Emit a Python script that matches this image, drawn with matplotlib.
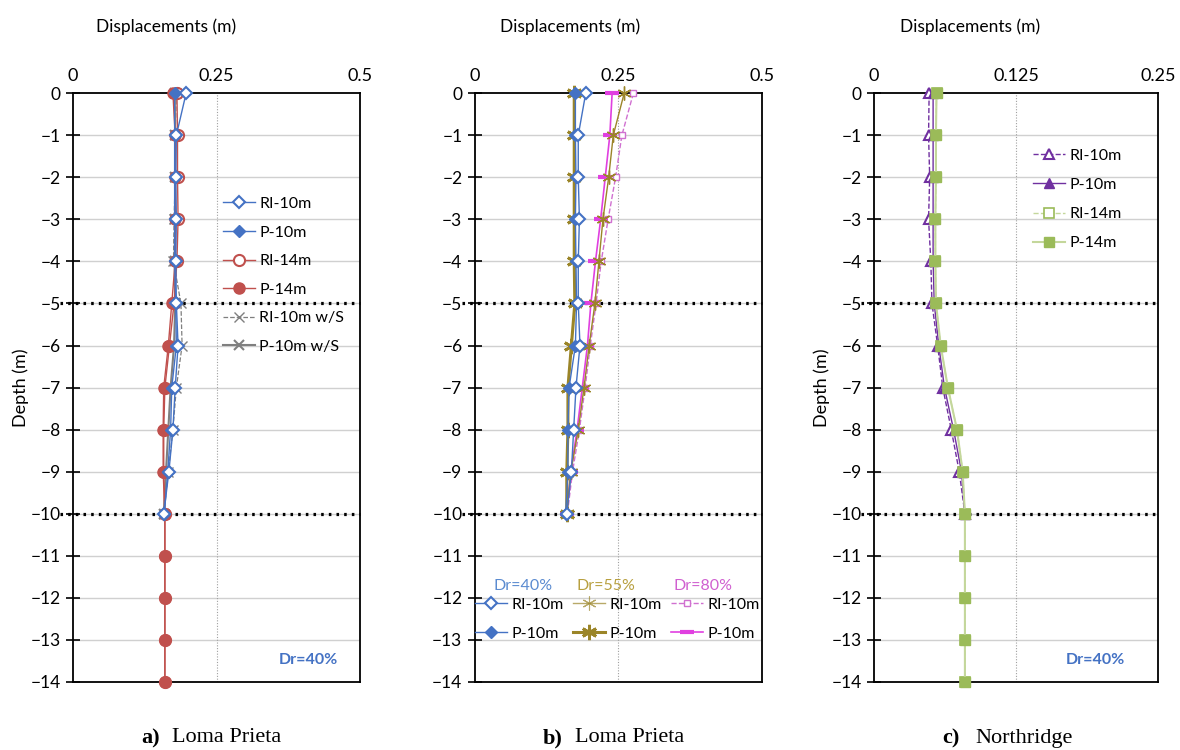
import matplotlib
matplotlib.use("Agg")
import matplotlib.pyplot as plt
from matplotlib.lines import Line2D
from matplotlib.legend import Legend

plt.rcParams['font.family'] = ['Lato', 'DejaVu Sans']

depth_10 = [0, -1, -2, -3, -4, -5, -6, -7, -8, -9, -10]
depth_14 = [0, -1, -2, -3, -4, -5, -6, -7, -8, -9, -10, -11, -12, -13, -14]

# a) Loma Prieta, Dr=40%
a_ri10 = [0.197, 0.180, 0.179, 0.180, 0.179, 0.180, 0.183, 0.178, 0.174, 0.167, 0.158]
a_p10 = [0.177, 0.177, 0.177, 0.177, 0.177, 0.179, 0.180, 0.172, 0.170, 0.165, 0.159]
a_ri14 = [0.181, 0.182, 0.182, 0.183, 0.181, 0.176, 0.168, 0.160, 0.158, 0.158, 0.160, 0.160, 0.160, 0.160, 0.160]
a_p14 = [0.174, 0.178, 0.178, 0.178, 0.178, 0.172, 0.166, 0.158, 0.157, 0.157, 0.160, 0.160, 0.160, 0.160, 0.160]
a_ri10s = [0.180, 0.178, 0.178, 0.176, 0.175, 0.188, 0.190, 0.180, 0.174, 0.166, 0.158]
a_p10s = [0.177, 0.178, 0.178, 0.178, 0.177, 0.178, 0.176, 0.170, 0.166, 0.162, 0.158]

# b) Loma Prieta, three relative densities
b_ri10_40 = [0.193, 0.180, 0.180, 0.182, 0.180, 0.180, 0.183, 0.176, 0.172, 0.168, 0.160]
b_p10_40 = [0.175, 0.175, 0.176, 0.175, 0.176, 0.177, 0.175, 0.164, 0.162, 0.162, 0.158]
b_ri10_55 = [0.260, 0.241, 0.233, 0.223, 0.216, 0.209, 0.199, 0.190, 0.180, 0.167, 0.160]
b_p10_55 = [0.173, 0.173, 0.173, 0.173, 0.173, 0.174, 0.168, 0.162, 0.162, 0.160, 0.160]
b_ri10_80 = [0.276, 0.256, 0.245, 0.232, 0.220, 0.211, 0.201, 0.192, 0.182, 0.170, 0.161]
b_p10_80 = [0.239, 0.235, 0.227, 0.219, 0.210, 0.202, 0.196, 0.187, 0.178, 0.167, 0.160]

# c) Northridge, Dr=40%
c_ri10 = [0.0485, 0.048, 0.049, 0.048, 0.050, 0.051, 0.056, 0.0605, 0.068, 0.075, 0.080]
c_p10 = [0.052, 0.052, 0.052, 0.052, 0.052, 0.053, 0.057, 0.062, 0.070, 0.077, 0.080]
c_ri14 = [0.055, 0.0545, 0.0545, 0.054, 0.054, 0.0545, 0.0587, 0.065, 0.073, 0.078, 0.080, 0.080, 0.080, 0.080, 0.080]
c_p14 = [0.055, 0.0545, 0.0545, 0.054, 0.054, 0.0545, 0.0587, 0.065, 0.073, 0.078, 0.080, 0.080, 0.080, 0.080, 0.080]

BLUE = '#4472C4'
RED = '#C0504D'
GREY = '#7F7F7F'
OLIVE = '#9B8528'
PINK = '#D070D0'
MAGENTA = '#E040E0'
PURPLE = '#7030A0'
GREEN = '#9BBB59'
LGREEN = '#C4D79B'

fig = plt.figure(figsize=(11.8, 7.5), dpi=100)
axa = fig.add_axes([0.0619, 0.0907, 0.2432, 0.785])
axb = fig.add_axes([0.4025, 0.0907, 0.2432, 0.785])
axc = fig.add_axes([0.7407, 0.0907, 0.2407, 0.785])


def style_axes(ax, xmax, xticks, xlabels, ylabel, title_x):
    ax.set_xlim(0, xmax)
    ax.set_ylim(-14, 0)
    ax.xaxis.tick_top()
    ax.set_xticks(xticks)
    ax.set_xticklabels(xlabels)
    ax.tick_params(axis='x', length=0, pad=7, labelsize=13)
    ax.set_yticks(range(-14, 1))
    ax.tick_params(axis='y', direction='inout', length=10, width=1.2, labelsize=12.5, pad=4)
    ax.set_title('Displacements (m)', fontsize=12.5, pad=44, x=title_x)
    if ylabel:
        ax.set_ylabel('Depth (m)', fontsize=13, labelpad=1)
    for s in ax.spines.values():
        s.set_linewidth(1.3)
        s.set_color('black')
    for d in range(-13, 0):
        ax.axhline(d, color='#D0D0D0', lw=1.0, zorder=0)
    ax.axvline(xmax / 2, color='#A0A0A0', lw=0.8, ls=(0, (1, 1.5)), zorder=0)
    for d in (-5, -10):
        ax.plot([-0.045, 1], [d, d], transform=ax.get_yaxis_transform(), color='black',
                lw=2.3, ls=(0, (0.8, 1.6)), clip_on=False, zorder=1)


style_axes(axa, 0.5, [0, 0.25, 0.5], ['0', '0.25', '0.5'], True, 0.324)
style_axes(axb, 0.5, [0, 0.25, 0.5], ['0', '0.25', '0.5'], False, 0.33)
style_axes(axc, 0.25, [0, 0.125, 0.25], ['0', '0.125', '0.25'], True, 0.338)

# panel a
axa.plot(a_ri10s, depth_10, color=GREY, lw=0.9, ls='--', marker='x', ms=7, mew=1, label='RI-10m w/S', clip_on=False, zorder=3)
axa.plot(a_p10s, depth_10, color=GREY, lw=1.5, marker='x', ms=7, mew=1.5, label='P-10m w/S', clip_on=False, zorder=3)
axa.plot(a_ri14, depth_14, color=RED, lw=1, marker='o', ms=8, mfc='white', mew=1.5, label='RI-14m', clip_on=False, zorder=4)
axa.plot(a_p14, depth_14, color=RED, lw=1, marker='o', ms=8, label='P-14m', clip_on=False, zorder=4)
axa.plot(a_p10, depth_10, color=BLUE, lw=1, marker='D', ms=6.5, label='P-10m', clip_on=False, zorder=5)
axa.plot(a_ri10, depth_10, color=BLUE, lw=1, marker='D', ms=6.5, mfc='white', mew=1.5, label='RI-10m', clip_on=False, zorder=6)
h, l = axa.get_legend_handles_labels()
order = [5, 4, 2, 3, 0, 1]
axa.legend([h[i] for i in order], [l[i] for i in order], loc='upper left', bbox_to_anchor=(0.521, 0.824),
           frameon=False, fontsize=11.5, handlelength=2.0, labelspacing=0.9, handletextpad=0.3,
           borderpad=0, borderaxespad=0)
axa.text(0.82, 0.038, 'Dr=40%', transform=axa.transAxes, ha='center', va='center', color=BLUE,
         fontsize=11.5, fontweight='bold')

# panel b
axb.plot(b_ri10_80, depth_10, color=PINK, lw=1, ls='--', marker='s', ms=4, mfc='white', mew=1, clip_on=False, zorder=3)
axb.plot(b_p10_80, depth_10, color=MAGENTA, lw=1.2, marker='_', ms=10, mew=3, clip_on=False, zorder=3)
axb.plot(b_ri10_55, depth_10, color=OLIVE, lw=1, marker=(6, 2, 0), ms=10, mew=1, clip_on=False, zorder=4)
axb.plot(b_p10_55, depth_10, color=OLIVE, lw=2.2, marker=(6, 2, 0), ms=11, mew=2, clip_on=False, zorder=4)
axb.plot(b_p10_40, depth_10, color=BLUE, lw=1, marker='D', ms=6.5, clip_on=False, zorder=5)
axb.plot(b_ri10_40, depth_10, color=BLUE, lw=1, marker='D', ms=6.5, mfc='white', mew=1.5, clip_on=False, zorder=6)

hb40 = [Line2D([], [], color=BLUE, lw=1, marker='D', ms=6.5, mfc='white', mew=1.5),
        Line2D([], [], color=BLUE, lw=1, marker='D', ms=6.5)]
hb55 = [Line2D([], [], color=OLIVE, lw=1, marker=(6, 2, 0), ms=10, mew=0.8, alpha=0.7),
        Line2D([], [], color=OLIVE, lw=2.2, marker=(6, 2, 0), ms=11, mew=2)]
hb80 = [Line2D([], [], color=PINK, lw=1, ls='--', marker='s', ms=4, mfc='white', mew=1),
        Line2D([], [], color=MAGENTA, lw=1.2, marker='_', ms=10, mew=3)]
groups = ((hb40, 'Dr=40%', '#5B8BD0', 0.0, 0.167),
          (hb55, 'Dr=55%', '#B8A040', 0.341, 0.456),
          (hb80, 'Dr=80%', '#D060D0', 0.683, 0.794))
for hs, title, col, x0, xt in groups:
    leg = Legend(axb, hs, ['RI-10m', 'P-10m'], loc='upper left', bbox_to_anchor=(x0, 0.143),
                 frameon=False, fontsize=11.5, handlelength=2.0, labelspacing=0.9,
                 handletextpad=0.3, borderpad=0, borderaxespad=0)
    axb.add_artist(leg)
    axb.text(xt, 0.163, title, transform=axb.transAxes, ha='center', va='center', color=col,
             fontsize=11.5)

# panel c
axc.plot(c_ri10, depth_10, color=PURPLE, lw=1, ls='--', marker='^', ms=6.5, mfc='white', mew=1.5, label='RI-10m', clip_on=False, zorder=3)
axc.plot(c_p10, depth_10, color=PURPLE, lw=1, marker='^', ms=6.5, label='P-10m', clip_on=False, zorder=3)
axc.plot(c_ri14, depth_14, color=LGREEN, lw=1, ls='--', marker='s', ms=7.5, mfc='white', mec=GREEN, mew=1.2, label='RI-14m', clip_on=False, zorder=4)
axc.plot(c_p14, depth_14, color=LGREEN, lw=1.5, marker='s', ms=7.5, mfc=GREEN, mec=GREEN, label='P-14m', clip_on=False, zorder=5)
axc.legend(loc='upper left', bbox_to_anchor=(0.56, 0.906), frameon=False, fontsize=11.5,
           handlelength=2.0, labelspacing=0.94, handletextpad=0.3, borderpad=0, borderaxespad=0)
axc.text(0.78, 0.038, 'Dr=40%', transform=axc.transAxes, ha='center', va='center', color=BLUE,
         fontsize=11.5, fontweight='bold')

# captions
for xl, xt, tag, name in ((151, 172, 'a)', 'Loma Prieta'), (553, 575, 'b)', 'Loma Prieta'), (951, 975, 'c)', 'Northridge')):
    fig.text(xl / 1180, 1 - 738 / 750, tag, ha='center', va='center', fontsize=16,
             fontweight='bold', family='Liberation Serif')
    fig.text(xt / 1180, 1 - 738 / 750, name, ha='left', va='center', fontsize=16,
             family='Liberation Serif')

fig.savefig('out.png', dpi=100)
